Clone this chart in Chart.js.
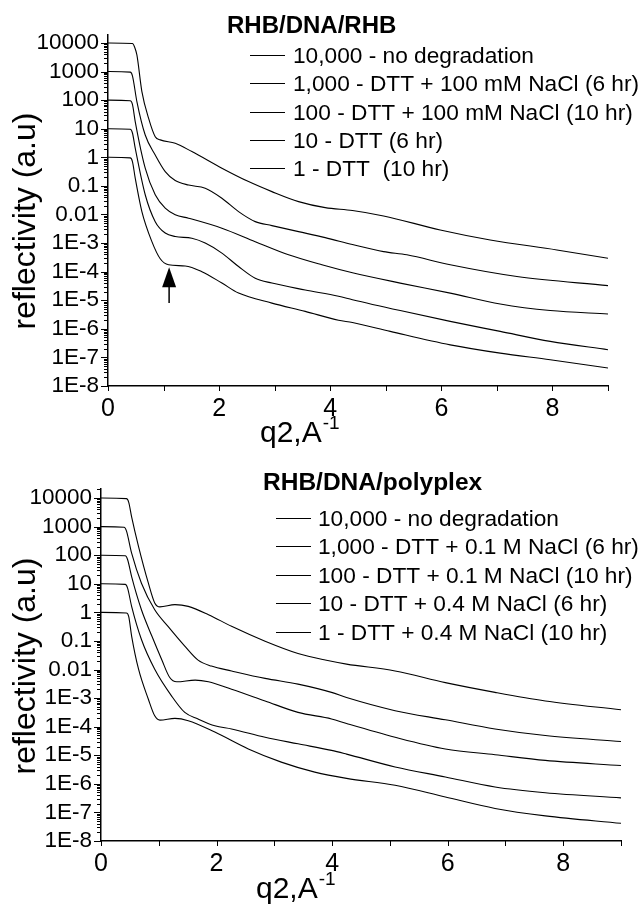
<!DOCTYPE html>
<html>
<head>
<meta charset="utf-8">
<script src="https://cdn.jsdelivr.net/npm/chart.js@4.4.1/dist/chart.umd.min.js"></script>
<style>
  body { margin: 0; background: #fff; }
  #wrap { position: relative; width: 642px; height: 913px; }
  canvas { position: absolute; left: 0; }
</style>
</head>
<body>
<div id="wrap">
  <canvas id="topChart" width="642" height="456" style="top:0"></canvas>
  <canvas id="bottomChart" width="642" height="457" style="top:456px"></canvas>
</div>
<script>
const FONT = "'Liberation Sans', Arial, Helvetica, sans-serif";

// q (A^-1) and log10(reflectivity), curves offset by decades
// RHB/DNA/RHB
const topQ1 = [0, 0.44, 0.48, 0.52, 0.61, 0.73, 0.85, 0.94, 1.21, 1.51, 2.05, 2.53, 2.95, 3.43, 3.91, 4.40, 4.96, 5.98, 6.88, 8.08, 9.0];
const topLog1 = [4, 3.98, 3.85, 3.58, 2.30, 1.37, 0.72, 0.61, 0.49, 0.20, -0.38, -0.85, -1.20, -1.55, -1.76, -1.86, -2.05, -2.54, -2.89, -3.24, -3.53];
const topQ2 = [0, 0.40, 0.44, 0.52, 0.67, 0.85, 1.03, 1.21, 1.45, 1.75, 2.05, 2.35, 2.65, 2.95, 3.43, 3.91, 4.40, 4.96, 5.38, 6.16, 7.36, 9.0];
const topLog2 = [3, 2.98, 2.85, 1.95, 0.78, 0.08, -0.50, -0.81, -0.97, -1.08, -1.43, -1.90, -2.25, -2.39, -2.60, -2.81, -3.05, -3.30, -3.41, -3.76, -4.17, -4.49];
const topQ3 = [0, 0.40, 0.44, 0.49, 0.67, 0.85, 1.03, 1.21, 1.45, 2.05, 2.65, 3.25, 3.85, 4.40, 5.26, 6.16, 7.06, 7.96, 9.0];
const topLog3 = [2, 1.98, 1.85, 1.25, -0.38, -1.31, -1.78, -2.01, -2.13, -2.48, -2.95, -3.41, -3.76, -4.04, -4.40, -4.75, -5.13, -5.36, -5.48];
const topQ4 = [0, 0.40, 0.44, 0.49, 0.67, 0.85, 1.03, 1.21, 1.51, 1.75, 2.05, 2.35, 2.65, 2.95, 3.55, 4.15, 4.40, 5.26, 6.16, 7.06, 7.96, 9.0];
const topLog4 = [1, 0.98, 0.85, 0.32, -1.31, -2.25, -2.65, -2.77, -2.83, -3.00, -3.35, -3.82, -4.23, -4.40, -4.64, -4.86, -4.98, -5.36, -5.74, -6.09, -6.44, -6.73];
const topQ5 = [0, 0.40, 0.44, 0.49, 0.61, 0.79, 0.94, 1.09, 1.39, 1.69, 2.05, 2.35, 2.95, 3.55, 4.15, 4.40, 5.08, 6.16, 7.06, 7.96, 9.0];
const topLog5 = [0, -0.02, -0.15, -0.73, -1.90, -2.95, -3.55, -3.76, -3.80, -4.00, -4.40, -4.75, -5.10, -5.39, -5.70, -5.78, -6.09, -6.56, -6.85, -7.08, -7.37];

// RHB/DNA/polyplex
const botQ1 = [0, 0.44, 0.48, 0.53, 0.65, 0.82, 0.93, 1.02, 1.28, 1.51, 1.86, 2.26, 2.84, 3.41, 3.88, 4.25, 5.09, 5.96, 6.82, 7.69, 9.0];
const botLog1 = [4, 3.98, 3.85, 3.34, 2.30, 1.02, 0.33, 0.19, 0.27, 0.21, -0.08, -0.49, -1.01, -1.44, -1.67, -1.81, -2.05, -2.46, -2.80, -3.10, -3.41];
const botQ2 = [0, 0.40, 0.44, 0.53, 0.70, 0.93, 1.16, 1.45, 1.68, 1.91, 2.26, 2.84, 3.41, 3.99, 4.25, 5.09, 5.96, 6.82, 7.69, 9.0];
const botLog2 = [3, 2.98, 2.85, 2.07, 1.02, 0.09, -0.49, -1.18, -1.67, -1.88, -2.05, -2.31, -2.51, -2.80, -2.98, -3.44, -3.76, -4.08, -4.31, -4.52];
const botQ3 = [0, 0.42, 0.46, 0.53, 0.70, 0.88, 1.05, 1.19, 1.31, 1.63, 1.86, 2.26, 2.84, 3.41, 3.99, 4.25, 5.09, 5.96, 6.82, 7.69, 9.0];
const botLog3 = [2, 1.98, 1.85, 1.25, 0.09, -0.83, -1.65, -2.28, -2.43, -2.37, -2.43, -2.69, -3.10, -3.50, -3.73, -3.89, -4.37, -4.78, -4.98, -5.18, -5.36];
const botQ4 = [0, 0.42, 0.46, 0.53, 0.70, 0.93, 1.22, 1.45, 1.68, 1.97, 2.26, 2.84, 3.41, 3.99, 4.25, 5.09, 5.96, 6.82, 7.69, 9.0];
const botLog4 = [1, 0.98, 0.85, 0.21, -0.95, -1.99, -2.92, -3.50, -3.73, -3.97, -4.08, -4.37, -4.60, -4.83, -4.96, -5.41, -5.76, -6.11, -6.31, -6.49];
const botQ5 = [0, 0.44, 0.48, 0.53, 0.65, 0.82, 0.93, 1.02, 1.28, 1.51, 1.97, 2.55, 3.12, 3.70, 4.25, 5.09, 5.96, 6.82, 7.69, 9.0];
const botLog5 = [0, -0.02, -0.15, -0.83, -1.99, -3.04, -3.62, -3.77, -3.71, -3.79, -4.19, -4.78, -5.24, -5.59, -5.81, -6.05, -6.46, -6.86, -7.12, -7.38];

const topLabels = ['10,000 - no degradation', '1,000 - DTT + 100 mM NaCl (6 hr)', '100 - DTT + 100 mM NaCl (10 hr)', '10 - DTT (6 hr)', '1 - DTT  (10 hr)'];
const botLabels = ['10,000 - no degradation', '1,000 - DTT + 0.1 M NaCl (6 hr)', '100 - DTT + 0.1 M NaCl (10 hr)', '10 - DTT + 0.4 M NaCl (6 hr)', '1 - DTT + 0.4 M NaCl (10 hr)'];

const yTickValues = [1e-8, 1e-7, 1e-6, 1e-5, 1e-4, 1e-3, 0.01, 0.1, 1, 10, 100, 1000, 10000];
const yTickLabels = ['1E-8', '1E-7', '1E-6', '1E-5', '1E-4', '1E-3', '0.01', '0.1', '1', '10', '100', '1000', '10000'];
const xTickValues = [0, 1, 2, 3, 4, 5, 6, 7, 8, 9];
const xTickLabels = ['0', '', '2', '', '4', '', '6', '', '8', ''];

function points(qs, logs) {
    return qs.map((q, i) => ({ x: q, y: Math.pow(10, logs[i]) }));
}

function makeSets(qList, logList, labels) {
    return qList.map((qs, i) => ({
        label: labels[i],
        data: points(qs, logList[i]),
        borderColor: '#000',
        borderWidth: 1.1,
        pointRadius: 0,
        fill: false,
        cubicInterpolationMode: 'monotone'
    }));
}

// ticks, legend, axis titles and the arrow
const decor = {
    id: 'decor',
    afterDraw(chart, args, o) {
        const ctx = chart.ctx;
        const xs = chart.scales.x, ys = chart.scales.y, area = chart.chartArea;
        ctx.save();
        ctx.strokeStyle = '#000';
        ctx.fillStyle = '#000';
        ctx.lineWidth = 1;

        for (let d = -8; d <= 4; d++) {
            for (let m = 1; m <= 9; m++) {
                const v = m * Math.pow(10, d);
                if (v > ys.max) break;
                const py = Math.round(ys.getPixelForValue(v)) + 0.5;
                const len = m === 1 ? 7 : 4;
                ctx.beginPath();
                ctx.moveTo(area.left - len, py);
                ctx.lineTo(area.left, py);
                ctx.stroke();
            }
        }
        xTickValues.forEach(v => {
            const px = Math.round(xs.getPixelForValue(v)) + 0.5;
            ctx.beginPath();
            ctx.moveTo(px, area.bottom);
            ctx.lineTo(px, area.bottom + 5);
            ctx.stroke();
        });

        // title + legend
        const lg = o.legend;
        ctx.font = 'bold ' + lg.titleSize + 'px ' + FONT;
        ctx.textAlign = 'left';
        ctx.textBaseline = 'alphabetic';
        ctx.fillText(lg.title, lg.titleX, lg.titleY);
        ctx.font = '22.7px ' + FONT;
        chart.data.datasets.forEach((ds, i) => {
            const ly = lg.rowY[i];
            ctx.beginPath();
            ctx.moveTo(lg.lineX0, ly + 0.5);
            ctx.lineTo(lg.lineX1, ly + 0.5);
            ctx.stroke();
            ctx.fillText(ds.label, lg.textX, ly + 8);
        });

        // arrow marking the shoulder
        if (o.arrow) {
            const ax = xs.getPixelForValue(o.arrow.q);
            const tip = ys.getPixelForValue(o.arrow.tip);
            const tail = ys.getPixelForValue(o.arrow.tail);
            ctx.lineWidth = 1.5;
            ctx.beginPath();
            ctx.moveTo(ax, tail);
            ctx.lineTo(ax, tip + 18);
            ctx.stroke();
            ctx.beginPath();
            ctx.moveTo(ax, tip);
            ctx.lineTo(ax - 7, tip + 20);
            ctx.lineTo(ax + 7, tip + 20);
            ctx.closePath();
            ctx.fill();
        }

        // axis titles
        const yt = o.yTitle;
        ctx.save();
        ctx.translate(yt.x, yt.y);
        ctx.rotate(-Math.PI / 2);
        ctx.textAlign = 'center';
        ctx.font = '32px ' + FONT;
        ctx.fillText('reflectivity (a.u)', 0, 0);
        ctx.restore();

        const xt = o.xTitle;
        ctx.textAlign = 'left';
        ctx.font = '30px ' + FONT;
        ctx.fillText('q2,A', xt.x, xt.y);
        const w = ctx.measureText('q2,A').width;
        ctx.font = '19px ' + FONT;
        ctx.fillText('-1', xt.x + w + 1, xt.y - 13);
        ctx.restore();
    }
};

function makeChart(id, sets, cfg) {
    return new Chart(document.getElementById(id), {
        type: 'line',
        data: { datasets: sets },
        plugins: [decor],
        options: {
            responsive: false,
            animation: false,
            layout: { padding: { left: 0, right: cfg.padRight, top: cfg.padTop, bottom: 0 } },
            plugins: {
                legend: { display: false },
                tooltip: { enabled: false },
                decor: cfg.decor
            },
            scales: {
                x: {
                    type: 'linear',
                    min: 0,
                    max: 9,
                    afterBuildTicks: s => { s.ticks = xTickValues.map(v => ({ value: v })); },
                    afterFit: s => { s.height = cfg.xHeight; },
                    grid: { display: false, drawTicks: false },
                    border: { display: true, color: '#000', width: 1.5 },
                    ticks: {
                        color: '#000',
                        font: { family: FONT, size: 25 },
                        padding: 8,
                        maxRotation: 0,
                        autoSkip: false,
                        callback: (v, i) => xTickLabels[i]
                    }
                },
                y: {
                    type: 'logarithmic',
                    min: 1e-8,
                    max: cfg.yMax,
                    afterBuildTicks: s => { s.ticks = yTickValues.map(v => ({ value: v })); },
                    afterFit: s => { s.width = cfg.yWidth; },
                    grid: { display: false, drawTicks: false },
                    border: { display: true, color: '#000', width: 1.5 },
                    ticks: {
                        color: '#000',
                        font: { family: FONT, size: 22.5 },
                        padding: 9,
                        autoSkip: false,
                        callback: (v, i) => yTickLabels[i]
                    }
                }
            }
        }
    });
}

makeChart('topChart',
    makeSets([topQ1, topQ2, topQ3, topQ4, topQ5], [topLog1, topLog2, topLog3, topLog4, topLog5], topLabels),
    {
        padTop: 35, padRight: 34, xHeight: 70, yWidth: 108, yMax: 1.9e4,
        decor: {
            legend: { title: 'RHB/DNA/RHB', titleSize: 24, titleX: 227, titleY: 33, lineX0: 250, lineX1: 285, textX: 293, rowY: [55, 83, 112, 140, 168] },
            arrow: { q: 1.1, tip: Math.pow(10, -3.85), tail: Math.pow(10, -5.1) },
            yTitle: { x: 35, y: 221 },
            xTitle: { x: 260, y: 442 }
        }
    });

makeChart('bottomChart',
    makeSets([botQ1, botQ2, botQ3, botQ4, botQ5], [botLog1, botLog2, botLog3, botLog4, botLog5], botLabels),
    {
        padTop: 33, padRight: 21, xHeight: 72, yWidth: 101, yMax: 2.07e4,
        decor: {
            legend: { title: 'RHB/DNA/polyplex', titleSize: 24.5, titleX: 263, titleY: 34, lineX0: 276, lineX1: 311, textX: 318, rowY: [62, 90, 119, 147, 176] },
            yTitle: { x: 35, y: 210 },
            xTitle: { x: 256, y: 442 }
        }
    });
</script>
</body>
</html>
